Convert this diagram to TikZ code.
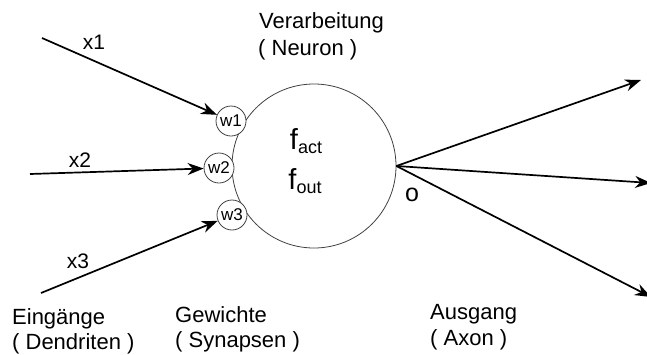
\documentclass[tikz,border=0pt]{standalone}
\usepackage{fontspec}
\setmainfont{Liberation Sans}
\usetikzlibrary{arrows.meta}
\begin{document}
\begin{tikzpicture}[x=1pt,y=1pt,
  lbl/.style={anchor=base west,inner sep=0pt,font=\fontsize{22}{24}\selectfont},
  wcirc/.style={circle,draw=black!75,line width=0.8pt,minimum size=30pt,inner sep=0pt,font=\fontsize{17}{20}\selectfont},
  arr/.style={line width=1.7pt,-{Stealth[length=16pt,width=12pt]}},
  xl/.style={inner sep=0pt,font=\fontsize{21}{24}\selectfont}]
\useasboundingbox (0,0) rectangle (647,-354);
% neuron
\node[circle,draw=black!75,line width=0.8pt,minimum size=164pt,inner sep=0pt] (neuron) at (314,-166) {};
\node[inner sep=0pt,font=\fontsize{29}{30}\selectfont] (fact) at (306,-141) {f\raisebox{-4pt}{\fontsize{18}{20}\selectfont act}};
\node[inner sep=0pt,font=\fontsize{29}{30}\selectfont] (fout) at (305,-181) {f\raisebox{-4pt}{\fontsize{18}{20}\selectfont out}};
% weights
\node[wcirc,fill=white] (w1) at (231,-121) {w1};
\node[wcirc,fill=white] (w2) at (219,-168) {w2};
\node[wcirc,fill=white] (w3) at (232,-215) {w3};
% inputs
\coordinate (in1) at (42,-38);
\coordinate (in2) at (30,-174);
\coordinate (in3) at (41,-293);
\draw[arr] (in1) -- (w1);
\draw[arr] (in2) -- (w2);
\draw[arr] (in3) -- (w3);
\node[xl] (lx1) at (94,-42) {x1};
\node[xl] (lx2) at (80,-160) {x2};
\node[xl] (lx3) at (78,-261) {x3};
% outputs
\coordinate (out1) at (641,-80);
\coordinate (out2) at (651,-183);
\coordinate (out3) at (651,-297);
\draw[arr] (neuron.east) -- (out1);
\draw[arr] (neuron.east) -- (out2);
\draw[arr] (neuron.east) -- (out3);
\node[inner sep=0pt,font=\fontsize{25}{26}\selectfont] (o) at (412,-195) {o};
% captions
\node[lbl] (verarb) at (259,-28) {Verarbeitung};
\node[lbl] (neur) at (258,-55) {( Neuron )};
\node[lbl] (eing) at (12,-324) {Eingänge};
\node[lbl] (dend) at (12,-349) {( Dendriten )};
\node[lbl] (gew) at (175,-322) {Gewichte};
\node[lbl] (syn) at (175,-347) {( Synapsen )};
\node[lbl] (aus) at (430,-319) {Ausgang};
\node[lbl] (axon) at (430,-345) {( Axon )};
\end{tikzpicture}
\end{document}
